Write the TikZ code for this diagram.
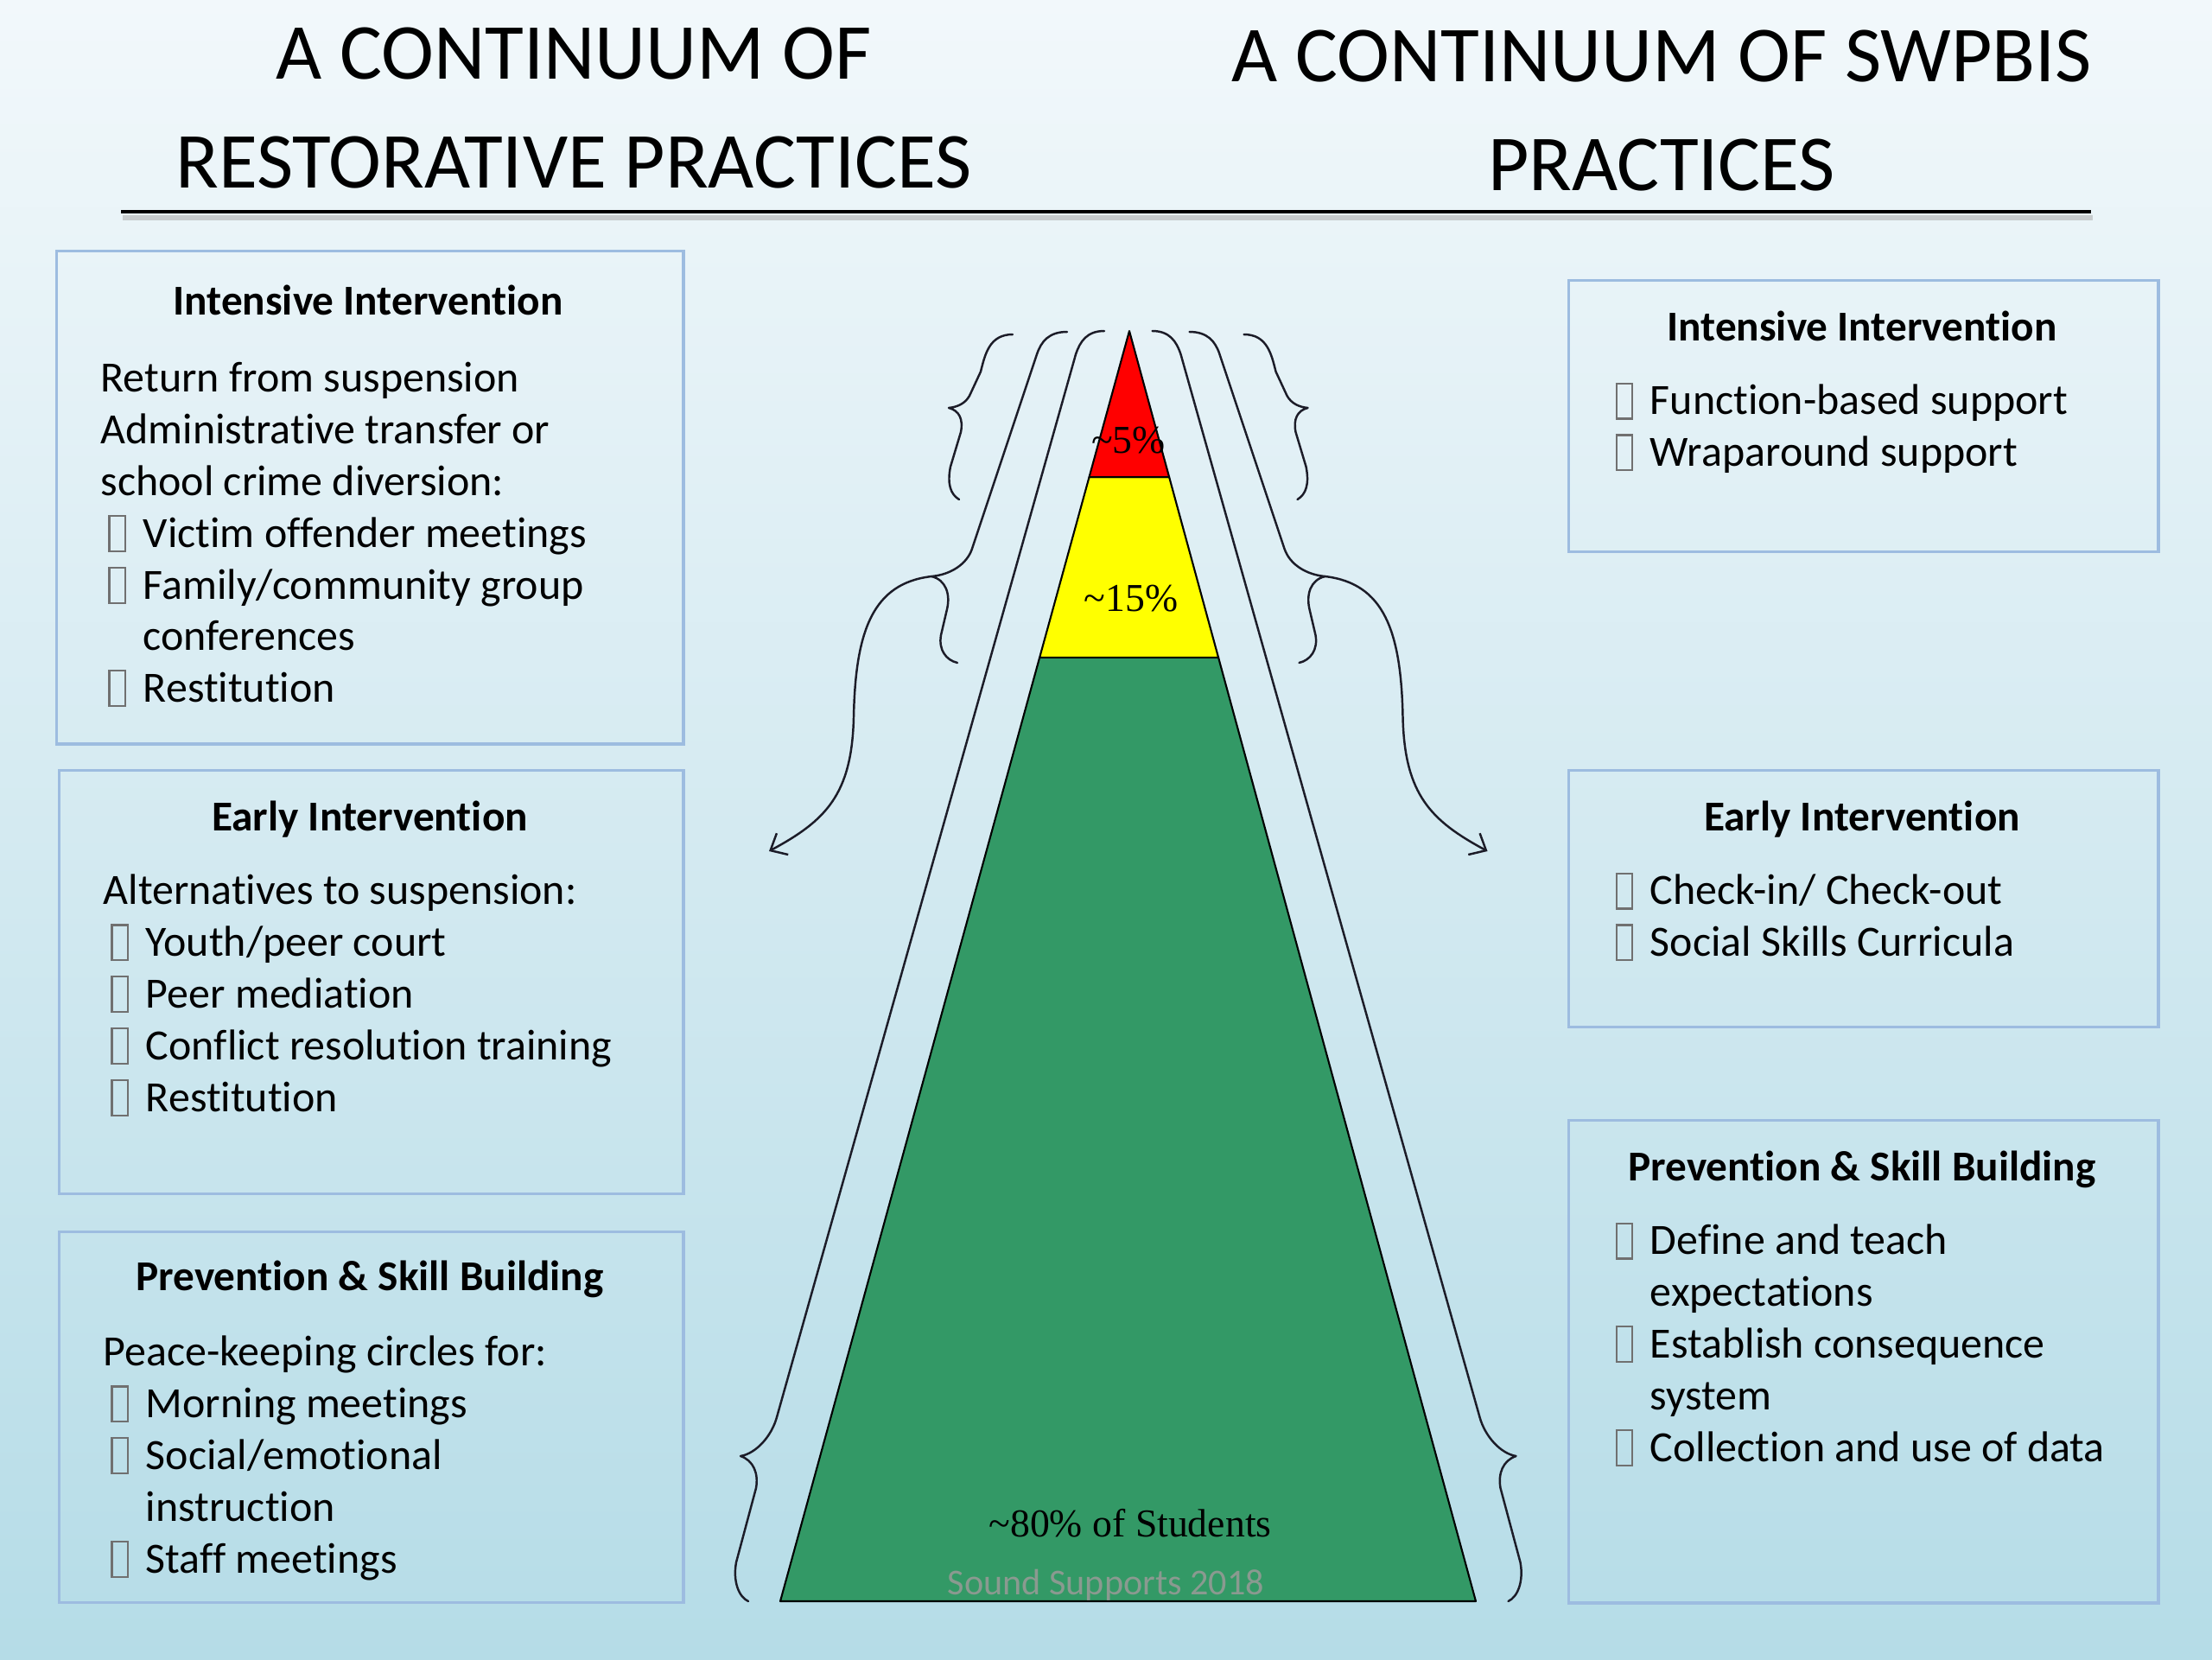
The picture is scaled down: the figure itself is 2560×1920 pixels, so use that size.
\documentclass[tikz,border=0pt]{standalone}
\usepackage{fontspec}
\setmainfont{Carlito}[Ligatures={NoCommon,NoContextual,NoRequired}]
\newfontfamily\pyrfont{Liberation Serif}
\usetikzlibrary{arrows.meta,calc}
\definecolor{bgtop}{HTML}{F2F8FB}
\definecolor{bgmid}{HTML}{D4EAF1}
\definecolor{bgbot}{HTML}{B5DCE7}
\definecolor{boxline}{HTML}{9DBCE0}
\definecolor{pgreen}{HTML}{339966}
\definecolor{pred}{HTML}{FF0000}
\definecolor{pyellow}{HTML}{FFFF00}
\definecolor{wmcol}{HTML}{8A9A90}
\definecolor{cbcol}{HTML}{707070}
\definecolor{ink}{HTML}{1C1C28}
\newcommand\cbx{\makebox[14pt][l]{\hspace{2.5pt}\textcolor{cbcol}{\setlength\fboxsep{0pt}\setlength\fboxrule{0.6pt}\fbox{\rule[-1pt]{0pt}{11pt}\rule{4.6pt}{0pt}}}}}
\newcommand\ind{\hspace*{14pt}}
\newcommand\st{\rule{0pt}{12pt}}
\begin{document}
\begin{tikzpicture}[x=0.01cm,y=-0.01cm,
  panel/.style={draw=boxline, line width=0.9pt, anchor=north west, inner sep=0pt},
  head/.style={anchor=base, inner sep=0pt, font=\bfseries\fontsize{14}{17}\selectfont},
  body/.style={anchor=north west, inner sep=0pt, align=left, font=\fontsize{14.2}{17}\selectfont},
  ttl/.style={anchor=base, inner sep=0pt, font=\fontsize{26.1}{31}\selectfont},
  tier/.style={draw=black, line width=0.6pt, line join=round},
  pct/.style={anchor=base, inner sep=0pt, font=\pyrfont\fontsize{13}{15}\selectfont},
  brc/.style={draw=ink, line width=0.7pt, line cap=round, line join=round},
  arr/.style={brc, -{Straight Barb[length=4.5pt,width=8pt]}}
]
\useasboundingbox (0,0) rectangle (2560,1920);
\fill[top color=bgtop, bottom color=bgbot, middle color=bgmid] (0,0) rectangle (2560,1920);

% titles
\node[ttl] (t1a) at (664,91) {A CONTINUUM OF};
\node[ttl] (t1b) at (664,217) {RESTORATIVE PRACTICES};
\node[ttl] (t2a) at (1923,94) {A CONTINUUM OF SWPBIS};
\node[ttl] (t2b) at (1923,220) {PRACTICES};
\draw[line width=1.6pt, black!35, opacity=0.5] (142,252) -- (2422,252);
\draw[line width=1.4pt] (140,245) -- (2420,245);

% panels
\node[panel, minimum width=7.25cm, minimum height=5.70cm] (bL1) at (64,289) {};
\node[panel, minimum width=7.22cm, minimum height=4.90cm] (bL2) at (67,890) {};
\node[panel, minimum width=7.22cm, minimum height=4.29cm] (bL3) at (67,1424) {};
\node[panel, minimum width=6.82cm, minimum height=3.14cm] (bR1) at (1814,323) {};
\node[panel, minimum width=6.82cm, minimum height=2.97cm] (bR2) at (1814,890) {};
\node[panel, minimum width=6.82cm, minimum height=5.58cm] (bR3) at (1814,1295) {};

% left texts
\node[head] (hL1) at (426,364) {Intensive Intervention};
\node[body] (tL1) at (116,411) {\st Return from suspension\\
Administrative transfer or\\
school crime diversion:\\
\cbx Victim offender meetings\\
\cbx Family/community group\\
\ind conferences\\
\cbx Restitution};

\node[head] (hL2) at (428,961) {Early Intervention};
\node[body] (tL2) at (119,1004) {\st Alternatives to suspension:\\
\cbx Youth/peer court\\
\cbx Peer mediation\\
\cbx Conflict resolution training\\
\cbx Restitution};

\node[head] (hL3) at (428,1493) {Prevention \& Skill Building};
\node[body] (tL3) at (119,1538) {\st Peace-keeping circles for:\\
\cbx Morning meetings\\
\cbx Social/emotional\\
\ind instruction\\
\cbx Staff meetings};

% right texts
\node[head] (hR1) at (2155,394) {Intensive Intervention};
\node[body] (tR1) at (1860,437) {\st\cbx Function-based support\\
\cbx Wraparound support};

\node[head] (hR2) at (2155,961) {Early Intervention};
\node[body] (tR2) at (1860,1004) {\st\cbx Check-in/ Check-out\\
\cbx Social Skills Curricula};

\node[head] (hR3) at (2155,1366) {Prevention \& Skill Building};
\node[body] (tR3) at (1860,1409) {\st\cbx Define and teach\\
\ind expectations\\
\cbx Establish consequence\\
\ind system\\
\cbx Collection and use of data};

% pyramid
\coordinate (apex) at (1307,383);
\coordinate (bl) at (903,1853);
\coordinate (br) at (1708,1853);
\coordinate (ryl) at ($(apex)!0.115!(bl)$);
\coordinate (ryr) at ($(apex)!0.115!(br)$);
\coordinate (ygl) at ($(apex)!0.257!(bl)$);
\coordinate (ygr) at ($(apex)!0.257!(br)$);
\filldraw[tier, fill=pgreen] (ygl) -- (ygr) -- (br) -- (bl) -- cycle;
\filldraw[tier, fill=pyellow] (ryl) -- (ryr) -- (ygr) -- (ygl) -- cycle;
\filldraw[tier, fill=pred] (apex) -- (ryr) -- (ryl) -- cycle;

\node[pct] (p5) at (1306,524) {\symbol{"7E}5\%};
\node[pct] (p15) at (1309,707) {\symbol{"7E}15\%};
\node[pct] (p80) at (1308,1778) {\symbol{"7E}80\% of Students};
\node[anchor=base, inner sep=0pt, font=\fontsize{12}{14}\selectfont, text=wmcol] (wm) at (1280,1845) {Sound Supports 2018};

% braces and arrows
\foreach \sd/\xs/\xsh in {L/1/0, R/-1/26.10} {
 \begin{scope}[xshift=\xsh cm, xscale=\xs]
  \draw[brc] (1172,387) .. controls (1145,387) and (1140,410) .. (1135,430) -- (1122,458)
     .. controls (1117,467) and (1108,471) .. (1098,472)
     .. controls (1110,475) and (1115,485) .. (1112,500) -- (1100,540)
     .. controls (1096,560) and (1100,572) .. (1110,578);
  \draw[brc] (1235,384) .. controls (1214,384) and (1205,395) .. (1200,410) -- (1125,635)
     .. controls (1119,653) and (1100,665) .. (1078,667) coordinate (mtip\sd)
     .. controls (1095,671) and (1100,688) .. (1096,705) -- (1089,735)
     .. controls (1086,752) and (1095,764) .. (1108,767);
  \draw[brc] (1278,383) .. controls (1258,383) and (1250,395) .. (1245,410) -- (899,1640)
     .. controls (893,1662) and (875,1682) .. (857,1685)
     .. controls (872,1690) and (878,1705) .. (875,1722) -- (852,1808)
     .. controls (848,1830) and (855,1848) .. (866,1853);
  \coordinate (aend\sd) at (890,985);
  \draw[arr] (mtip\sd) .. controls (1010,675) and (990,730) .. (988,830)
     .. controls (986,920) and (955,950) .. (aend\sd);
 \end{scope}}
\end{tikzpicture}
\end{document}
